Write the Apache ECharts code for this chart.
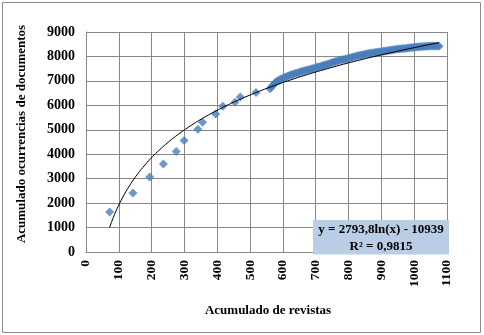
<!DOCTYPE html>
<html>
<head>
<meta charset="utf-8">
<script src="https://cdn.jsdelivr.net/npm/echarts@6/dist/echarts.min.js"></script>
<style>
  html, body { margin: 0; padding: 0; background: #fff; }
  #chart { width: 484px; height: 335px; }
</style>
</head>
<body>
<div id="chart"></div>
<script>
// Cumulative journals vs cumulative document occurrences
const xTicks = [0, 100, 200, 300, 400, 500, 600, 700, 800, 900, 1000, 1100];
const yTicks = [0, 1000, 2000, 3000, 4000, 5000, 6000, 7000, 8000, 9000];

// sparse early observations
const earlyX = [72, 143, 194, 236, 275, 299, 341, 355, 395, 417, 454, 470, 518];
const earlyY = [1640, 2414, 3069, 3601, 4108, 4558, 5020, 5307, 5646, 5961, 6125, 6342, 6522];

// dense run of observations from about 560 journals onward
const denseX = [561, 565, 569, 573, 577, 581, 585, 589, 593, 597, 601, 606, 611, 616, 621, 626, 631, 636, 641, 646,
  651, 656, 661, 666, 671, 676, 681, 686, 691, 696, 701, 706, 711, 716, 721, 726, 731, 736, 741, 746,
  751, 756, 761, 766, 771, 776, 781, 786, 791, 796, 801, 806, 811, 816, 821, 826, 831, 836, 841, 846,
  851, 856, 861, 866, 871, 876, 881, 886, 891, 896, 901, 906, 911, 916, 921, 926, 931, 936, 941, 946,
  951, 956, 961, 966, 971, 976, 981, 986, 991, 996, 1001, 1006, 1011, 1016, 1021, 1026, 1031, 1036, 1041, 1046,
  1051, 1056, 1061, 1066, 1071, 1076];
const denseY = [6680, 6750, 6810, 6870, 6930, 6970, 7010, 7040, 7070, 7090, 7110, 7150, 7170, 7200, 7230, 7250, 7270, 7300, 7310, 7330,
  7350, 7380, 7390, 7410, 7440, 7450, 7470, 7490, 7510, 7520, 7550, 7570, 7580, 7600, 7620, 7650, 7660, 7680, 7700, 7730,
  7750, 7770, 7790, 7810, 7830, 7850, 7860, 7880, 7900, 7910, 7930, 7950, 7970, 7990, 8000, 8020, 8040, 8050, 8060, 8080,
  8090, 8110, 8120, 8130, 8140, 8150, 8160, 8170, 8180, 8190, 8200, 8210, 8220, 8230, 8240, 8250, 8260, 8270, 8280, 8290,
  8300, 8305, 8315, 8325, 8330, 8340, 8350, 8355, 8365, 8370, 8380, 8385, 8390, 8395, 8400, 8405, 8410, 8415, 8420, 8425,
  8425, 8430, 8430, 8425, 8425, 8420];

// logarithmic trend stated on the chart: y = a*ln(x) + b
const trendA = 2793.8;
const trendB = -10939;
const trendLabel = ['y = 2793,8ln(x) - 10939', 'R² = 0,9815'];

const xAll = earlyX.concat(denseX);
const yAll = earlyY.concat(denseY);
const points = xAll.map((x, i) => [x, yAll[i]]);

const xFirst = Math.min(...xAll), xLast = Math.max(...xAll);
const trend = [];
for (let k = 0; k <= 200; k++) {
  const x = xFirst + (xLast - xFirst) * k / 200;
  trend.push([x, trendA * Math.log(x) + trendB]);
}

const serif = '"Liberation Serif", "Times New Roman", serif';
const gridColor = '#878787';
const plain = v => String(v);

const chart = echarts.init(document.getElementById('chart'), null, { renderer: 'canvas' });
chart.setOption({
  backgroundColor: '#fff',
  animation: false,
  grid: { left: 86, top: 32, width: 361, height: 220, containLabel: false },
  xAxis: {
    type: 'value', min: xTicks[0], max: xTicks[xTicks.length - 1], interval: 100,
    axisLine: { show: true, onZero: false, lineStyle: { color: gridColor, width: 1 } },
    axisTick: { show: false },
    splitLine: { show: true, lineStyle: { color: gridColor, width: 1 } },
    axisLabel: { rotate: 90, margin: 8, formatter: plain, color: '#000', fontFamily: serif, fontWeight: 'bold', fontSize: 13.5 }
  },
  yAxis: {
    type: 'value', min: yTicks[0], max: yTicks[yTicks.length - 1], interval: 1000,
    axisLine: { show: true, lineStyle: { color: gridColor, width: 1 } },
    axisTick: { show: false },
    splitLine: { show: true, lineStyle: { color: gridColor, width: 1 } },
    axisLabel: { margin: 11, formatter: plain, color: '#000', fontFamily: serif, fontWeight: 'bold', fontSize: 14 }
  },
  series: [
    {
      type: 'scatter', data: points, symbol: 'diamond', symbolSize: 9,
      itemStyle: { color: '#4a7ebb' }, z: 2
    },
    {
      type: 'line', data: trend, showSymbol: false, smooth: false,
      lineStyle: { color: '#000', width: 1 }, z: 3
    }
  ],
  graphic: [
    { type: 'rect', shape: { x: 2.5, y: 2.5, width: 478, height: 330 },
      style: { fill: null, stroke: '#8c8c8c', lineWidth: 1 }, silent: true },
    { type: 'rect', shape: { x: 313, y: 220, width: 136, height: 34.5 },
      style: { fill: '#b9cde4' }, z: 10 },
    { type: 'text', x: 381, y: 230, z: 11,
      style: { text: trendLabel[0], fill: '#000', font: 'bold 13px ' + serif, textAlign: 'center', textVerticalAlign: 'middle' } },
    { type: 'text', x: 381, y: 246.5, z: 11,
      style: { text: trendLabel[1], fill: '#000', font: 'bold 13px ' + serif, textAlign: 'center', textVerticalAlign: 'middle' } },
    { type: 'text', x: 268, y: 311, z: 11,
      style: { text: 'Acumulado de revistas', fill: '#000', font: 'bold 13px ' + serif, textAlign: 'center', textVerticalAlign: 'middle' } },
    { type: 'text', x: 22, y: 134, rotation: Math.PI / 2, z: 11,
      style: { text: 'Acumulado ocurrencias de documentos', fill: '#000', font: 'bold 13px ' + serif, textAlign: 'center', textVerticalAlign: 'middle' } }
  ]
});
</script>
</body>
</html>
